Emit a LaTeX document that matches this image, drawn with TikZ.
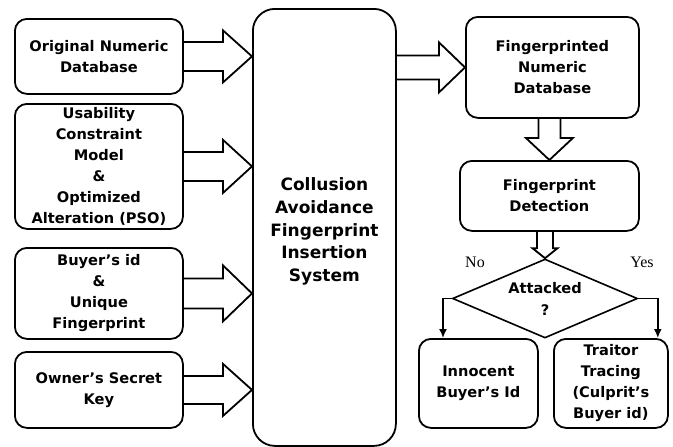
\documentclass[tikz,border=0pt]{standalone}
\usepackage{fontspec}
\setmainfont{DejaVu Sans}
\newfontfamily\serifnum{Liberation Serif}
\usetikzlibrary{calc,shapes.geometric,arrows.meta}
\tikzset{
  boxnode/.style={draw, line width=1.8pt, rounded corners=12pt, align=center, inner sep=0pt,
    font=\fontsize{14.6}{21}\selectfont\bfseries, anchor=north west},
  bigbox/.style={boxnode, rounded corners=22pt, font=\fontsize{17}{22.7}\selectfont\bfseries},
  blockarr/.style={draw, line width=1.8pt, line join=miter},
  conn/.style={draw, line width=1.6pt, -{Latex[length=9pt,width=8pt]}},
  yesno/.style={font=\fontsize{16}{18}\selectfont\serifnum},
}
% horizontal block arrow: start, tip, shaft half, head half, head length
\newcommand\hblock[5]{\draw[blockarr] ($#1+(0,-#3)$) -- ($#2+(-#5,-#3)$) -- ($#2+(-#5,-#4)$) -- #2 -- ($#2+(-#5,#4)$) -- ($#2+(-#5,#3)$) -- ($#1+(0,#3)$);}
% vertical (downward) block arrow
\newcommand\vblock[5]{\draw[blockarr] ($#1+(-#3,0)$) -- ($#2+(-#3,-#5)$) -- ($#2+(-#4,-#5)$) -- #2 -- ($#2+(#4,-#5)$) -- ($#2+(#3,-#5)$) -- ($#1+(#3,0)$);}
\begin{document}
\begin{tikzpicture}[x=1pt,y=-1pt]
\fill[white] (0,0) rectangle (673,447);
\useasboundingbox (0,0) rectangle (673,447);

\node[boxnode, minimum width=168pt, minimum height=75pt] (b1) at (14,18) {Original Numeric\\Database};
\node[boxnode, minimum width=168pt, minimum height=125pt] (b2) at (14,103) {Usability\\Constraint\\Model\\\&\\Optimized\\Alteration (PSO)};
\node[boxnode, minimum width=168pt, minimum height=91pt] (b3) at (14,247) {Buyer’s id\\\&\\Unique\\Fingerprint};
\node[boxnode, minimum width=168pt, minimum height=76pt] (b4) at (14,351) {Owner’s Secret\\Key};

\node[bigbox, minimum width=143pt, minimum height=437pt] (cen) at (252,8) {\rule{0pt}{21pt}Collusion\\Avoidance\\Fingerprint\\Insertion\\System};

\node[boxnode, minimum width=173pt, minimum height=101pt] (fp) at (465,16) {Fingerprinted\\Numeric\\Database};
\node[boxnode, minimum width=179pt, minimum height=70pt] (det) at (459,160) {Fingerprint\\Detection};
\node[draw, line width=1.6pt, shape=diamond, aspect=2.34, minimum width=185pt, minimum height=79pt, inner sep=0pt, align=center,
  font=\fontsize{14.6}{22}\selectfont\bfseries] (dia) at (545,298.5) {Attacked\\?};
\node[boxnode, minimum width=119pt, minimum height=89pt] (inn) at (418,338) {Innocent\\Buyer’s Id};
\node[boxnode, minimum width=114pt, minimum height=89pt] (tra) at (553,338) {Traitor\\Tracing\\(Culprit’s\\Buyer id)};

\node[yesno] (no) at (475,262) {No};
\node[yesno] (yes) at (642,262) {Yes};

% block arrows into the central system
\coordinate (t1) at (cen.west |- b1.east);
\coordinate (t2) at (cen.west |- b2.east);
\coordinate (t3) at (cen.west |- b3.east);
\coordinate (t4) at (cen.west |- b4.east);
\hblock{(b1.east)}{(t1)}{14.5}{26}{29}
\hblock{(b2.east)}{(t2)}{14.5}{26.5}{29}
\hblock{(b3.east)}{(t3)}{15}{28}{29}
\hblock{(b4.east)}{(t4)}{14}{26}{29}

% output arrow
\coordinate (s5) at (cen.east |- fp.west);
\hblock{(s5)}{(fp.west)}{12}{25}{26}

% down arrows
\coordinate (s6) at (det.north |- fp.south);
\vblock{(s6)}{(det.north)}{11}{23.5}{22}
\coordinate (s7) at (dia.north |- det.south);
\vblock{(s7)}{(dia.north)}{8}{12.5}{10}

% decision connectors
\coordinate (ia) at ($(inn.north west)+(25,0)$);
\coordinate (ta) at ($(tra.north east)+(-11,0)$);
\draw[conn] (dia.west) -| (ia);
\draw[conn] (dia.east) -| (ta);
\end{tikzpicture}
\end{document}
